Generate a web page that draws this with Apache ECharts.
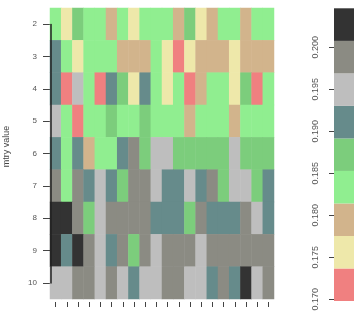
<!DOCTYPE html>
<html><head><meta charset="utf-8">
<script src="https://cdn.jsdelivr.net/npm/echarts@6/dist/echarts.min.js"></script>
<style>html,body{margin:0;padding:0;background:#fff}#c{width:356px;height:318px}</style>
</head><body><div id="c"></div>
<script>
// mtry values (rows, top to bottom) and run columns
const mtryValues = ['2','3','4','5','6','7','8','9','10'];
const columns = ['1','2','3','4','5','6','7','8','9','10','11','12','13','14','15','16','17','18','19','20'];

// error values per mtry row, one value per column
const row2  = [0.1834,0.1756,0.1871,0.1829,0.1840,0.1795,0.1836,0.1761,0.1843,0.1831,0.1838,0.1788,0.1867,0.1752,0.1801,0.1835,0.1827,0.1793,0.1839,0.1842];
const row3  = [0.1913,0.1833,0.1748,0.1837,0.1841,0.1828,0.1796,0.1790,0.1803,0.1835,0.1759,0.1718,0.1754,0.1799,0.1786,0.1794,0.1763,0.1791,0.1797,0.1805];
const row4  = [0.1921,0.1709,0.1948,0.1832,0.1722,0.1910,0.1874,0.1750,0.1916,0.1839,0.1757,0.1830,0.1727,0.1789,0.1844,0.1836,0.1746,0.1880,0.1715,0.1833];
const row5  = [0.1952,0.1826,0.1701,0.1838,0.1834,0.1869,0.1841,0.1830,0.1877,0.1836,0.1843,0.1829,0.1798,0.1835,0.1840,0.1832,0.1802,0.1837,0.1845,0.1831];
const row6  = [0.1909,0.1839,0.1924,0.1787,0.1833,0.1842,0.1915,0.1985,0.1866,0.1947,0.1954,0.1873,0.1882,0.1870,0.1876,0.1864,0.1958,0.1879,0.1868,0.1875];
const row7  = [0.1991,0.1836,0.1987,0.1919,0.1951,0.1912,0.1871,0.1996,0.1983,0.1944,0.1907,0.1922,0.1956,0.1914,0.1989,0.1878,0.1949,0.1960,0.1869,0.1917];
const row8  = [0.2038,0.2029,0.1994,0.1873,0.1953,0.1990,0.1986,0.2001,0.1982,0.1918,0.1911,0.1925,0.1867,0.1993,0.1908,0.1920,0.1914,0.1998,0.1946,0.1923];
const row9  = [0.2045,0.1916,0.2033,0.1988,0.1957,0.1910,0.1995,0.1877,0.1984,0.1950,0.1992,0.1999,0.1987,0.1962,0.1990,0.2003,0.1985,0.1997,0.1993,0.2000];
const row10 = [0.1955,0.1948,0.1989,0.1996,0.1943,0.1991,0.1959,0.1921,0.1952,0.1947,0.1986,0.1994,0.1961,0.1954,0.1912,0.1998,0.1919,0.2027,0.1950,0.1988];

// colour scale bins
const binEdges = [0.1698,0.17367,0.17754,0.18141,0.18528,0.18915,0.19302,0.19689,0.20076,0.20464];
const binColors = ['#F08080','#EEE8AA','#D2B48C','#90EE90','#7CCD7C','#668B8B','#BEBEBE','#8B8B83','#333333'];
const colorbarTicks = [0.170,0.175,0.180,0.185,0.190,0.195,0.200];

const rows = [row2,row3,row4,row5,row6,row7,row8,row9,row10];
const heatData = [];
rows.forEach((r, ri) => r.forEach((v, ci) => heatData.push([ci, ri, v])));

const pieces = binColors.map((c, i) => (i === binColors.length - 1)
  ? {gte: binEdges[i], lte: binEdges[i+1], color: c}
  : {gte: binEdges[i], lt: binEdges[i+1], color: c});

const cbSeries = binColors.map((c, i) => ({
  type: 'bar', xAxisIndex: 1, yAxisIndex: 1, stack: 'cb', barWidth: '100%',
  silent: true, itemStyle: {color: c},
  data: [i === 0 ? binEdges[1] : binEdges[i+1] - binEdges[i]]
}));

const font = 'Liberation Sans, Arial, sans-serif';
const chart = echarts.init(document.getElementById('c'), null, {renderer: 'canvas'});
chart.setOption({
  animation: false,
  backgroundColor: '#fff',
  textStyle: {fontFamily: font},
  grid: [
    {left: 50, top: 8, width: 224, height: 291, outerBoundsMode: 'none', containLabel: false},
    {left: 334, top: 8.3, width: 20, height: 292.7, outerBoundsMode: 'none', containLabel: false},
    {left: 51, top: 24.5, width: 10, height: 258.5, outerBoundsMode: 'none', containLabel: false}
  ],
  xAxis: [
    {type: 'category', gridIndex: 0, data: columns, offset: 3,
     axisLine: {show: false}, axisLabel: {show: false, interval: 0},
     axisTick: {show: true, interval: 0, alignWithLabel: true, length: 5, lineStyle: {color: '#444'}},
     splitLine: {show: false}},
    {type: 'category', gridIndex: 1, data: [''], show: false},
    {type: 'value', gridIndex: 2, show: false}
  ],
  yAxis: [
    {type: 'category', gridIndex: 0, data: mtryValues, inverse: true,
     name: 'mtry value', nameLocation: 'middle', nameGap: 39,
     nameTextStyle: {fontSize: 9, color: '#444', fontFamily: font, padding: [0, 0, 0, 14]},
     axisLine: {show: false},
     axisTick: {show: true, interval: 0, alignWithLabel: true, length: 7, lineStyle: {color: '#444'}},
     axisLabel: {fontSize: 8, color: '#555', margin: 13, interval: 0, fontFamily: font},
     splitLine: {show: false}},
    {type: 'value', gridIndex: 1, min: binEdges[0], max: binEdges[binEdges.length-1],
     position: 'left',
     axisLine: {show: false},
     axisTick: {show: true, length: 5, customValues: colorbarTicks, lineStyle: {color: '#444'}},
     axisLabel: {show: true, rotate: 90, fontSize: 9, color: '#555', margin: 14, fontFamily: font,
                 customValues: colorbarTicks, formatter: v => v.toFixed(3)},
     splitLine: {show: false}},
    {type: 'value', gridIndex: 2, min: 0, max: 1, z: 10,
     axisLine: {show: true, lineStyle: {color: '#222', width: 1.5}},
     axisTick: {show: false}, axisLabel: {show: false}, splitLine: {show: false}}
  ],
  visualMap: {type: 'piecewise', show: false, seriesIndex: 0, pieces: pieces},
  series: [
    {type: 'heatmap', xAxisIndex: 0, yAxisIndex: 0, data: heatData,
     itemStyle: {borderWidth: 0}, emphasis: {disabled: true}}
  ].concat(cbSeries)
});
</script>
</body></html>
